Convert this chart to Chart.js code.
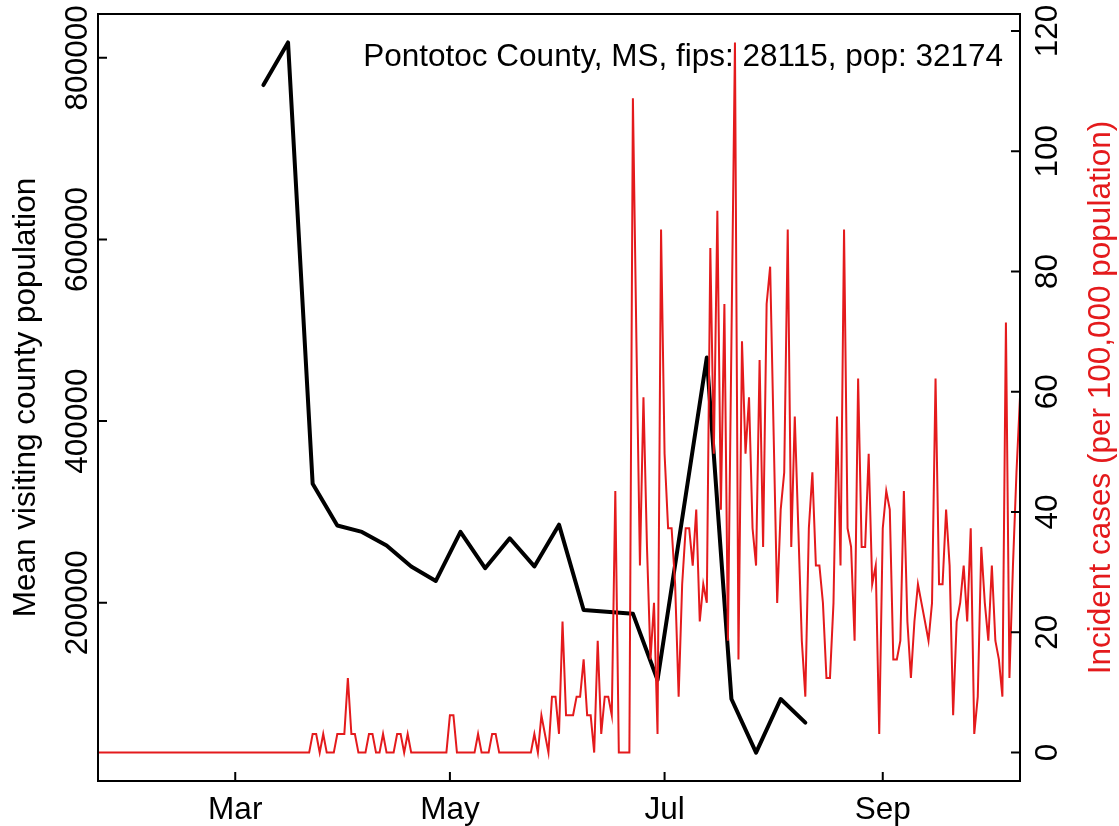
<!DOCTYPE html>
<html>
<head>
<meta charset="utf-8">
<title>Pontotoc County, MS</title>
<script src="https://cdn.jsdelivr.net/npm/chart.js@4.4.1/dist/chart.umd.min.js"></script>
<style>
  html, body { margin: 0; padding: 0; background: #fff; }
  #wrap { width: 1119px; height: 826px; }
</style>
</head>
<body>
<div id="wrap"><canvas id="countyChart" width="1119" height="826"></canvas></div>
<script>
// county shown in the top right corner
const countyTitle = "Pontotoc County, MS, fips: 28115, pop: 32174";

// weekly mean visiting county population (x = day of year 2020, Jan 1 = 0)
const visitDays = [68, 75, 82, 89, 96, 103, 110, 117, 124, 131, 138, 145, 152, 159, 173, 180, 194, 201, 208, 215, 222];
const visitPop = [770000, 817000, 331000, 285000, 278000, 263000, 240000, 224000, 278000, 238000, 271000,
                  240000, 286000, 192000, 188000, 115000, 470000, 94000, 35000, 94000, 68000];

// daily incident cases per 100,000, first value is Jan 22 (day 21)
const caseStartDay = 21;
const incidentCases = [
  0, 0, 0, 0, 0, 0, 0, 0, 0, 0,              // 21-30
  0, 0, 0, 0, 0, 0, 0, 0, 0, 0,              // 31-40
  0, 0, 0, 0, 0, 0, 0, 0, 0, 0,              // 41-50
  0, 0, 0, 0, 0, 0, 0, 0, 0, 0,              // 51-60
  0, 0, 0, 0, 0, 0, 0, 0, 0, 0,              // 61-70
  0, 0, 0, 0, 0, 0, 0, 0, 0, 0,              // 71-80
  0, 3.1, 3.1, 0, 3.1, 0, 0, 0, 3.1, 3.1,    // 81-90
  3.1, 12.4, 3.1, 3.1, 0, 0, 0, 3.1, 3.1, 0, // 91-100
  0, 3.1, 0, 0, 0, 3.1, 3.1, 0, 3.1, 0,      // 101-110
  0, 0, 0, 0, 0, 0, 0, 0, 0, 0,              // 111-120
  6.2, 6.2, 0, 0, 0, 0, 0, 0, 3.1, 0,        // 121-130
  0, 0, 3.1, 3.1, 0, 0, 0, 0, 0, 0,          // 131-140
  0, 0, 0, 0, 3.1, 0, 6.2, 3.1, 0, 9.3,      // 141-150
  9.3, 3.1, 21.8, 6.2, 6.2, 6.2, 9.3, 9.3, 15.5, 6.2,
  6.2, 0, 18.6, 3.1, 9.3, 9.3, 6.2, 43.5, 0, 0,
  0, 0, 108.8, 68.4, 31.1, 59.1, 34.2, 15.5, 24.9, 3.1,
  87.0, 49.7, 37.3, 37.3, 28.0, 9.3, 28.0, 37.3, 37.3, 31.1,
  40.4, 21.8, 28.0, 24.9, 83.9, 49.7, 90.1, 40.4, 74.6, 18.6,
  68.4, 118.1, 15.5, 68.4, 49.7, 59.1, 37.3, 31.1, 65.3, 34.2,
  74.6, 80.8, 52.8, 24.9, 40.4, 46.6, 87.0, 34.2, 55.9, 37.3,
  18.6, 9.3, 37.3, 46.6, 31.1, 31.1, 24.9, 12.4, 12.4, 24.9,
  55.9, 31.1, 87.0, 37.3, 34.2, 18.6, 62.2, 34.2, 34.2, 49.7,
  28.0, 31.1, 3.1, 37.3, 43.5, 40.4, 15.5, 15.5, 18.6, 43.5,
  21.8, 12.4, 21.8, 28.0, 24.9, 21.8, 18.6, 24.9, 62.2, 28.0,
  28.0, 40.4, 31.1, 6.2, 21.8, 24.9, 31.1, 21.8, 37.3, 3.1,
  9.3, 34.2, 24.9, 18.6, 31.1, 18.6, 15.5, 9.3, 71.5, 12.4,
  31.1, 46.6, 59.1                           // 281-283
];

// axis ticks
const monthTickDays = [60, 121, 182, 244];
const monthLabels = ["Mar", "May", "Jul", "Sep"];
const popTicks = [200000, 400000, 600000, 800000];
const caseTicks = [0, 20, 40, 60, 80, 100, 120];

const caseColor = "#e41a1c";
const baseFont = '31.5px "Liberation Sans", Arial, sans-serif';

// same 4% padding R uses around the data range
function paddedRange(values) {
    const lo = Math.min(...values);
    const hi = Math.max(...values);
    const pad = (hi - lo) * 0.04;
    return [lo - pad, hi + pad];
}

const popRange = paddedRange(visitPop);
const caseRange = paddedRange(incidentCases);

// box, inward ticks and upright/rotated labels, base-graphics style
const baseAxes = {
    id: "baseAxes",
    afterDraw(chart) {
        const ctx = chart.ctx;
        const area = chart.chartArea;
        const xs = chart.scales.x;
        const yl = chart.scales.y;
        const yr = chart.scales.y1;
        const tick = 9;

        ctx.save();
        ctx.strokeStyle = "#000";
        ctx.lineWidth = 2;
        ctx.strokeRect(area.left, area.top, area.right - area.left, area.bottom - area.top);

        ctx.beginPath();
        monthTickDays.forEach(d => {
            const px = xs.getPixelForValue(d);
            ctx.moveTo(px, area.bottom);
            ctx.lineTo(px, area.bottom - tick);
        });
        popTicks.forEach(v => {
            const py = yl.getPixelForValue(v);
            ctx.moveTo(area.left, py);
            ctx.lineTo(area.left + tick, py);
        });
        caseTicks.forEach(v => {
            const py = yr.getPixelForValue(v);
            ctx.moveTo(area.right, py);
            ctx.lineTo(area.right - tick, py);
        });
        ctx.stroke();

        ctx.font = baseFont;
        ctx.fillStyle = "#000";
        ctx.textAlign = "center";
        ctx.textBaseline = "alphabetic";
        monthTickDays.forEach((d, i) => {
            ctx.fillText(monthLabels[i], xs.getPixelForValue(d), 819);
        });

        function upText(text, x, y, color) {
            ctx.save();
            ctx.translate(x, y);
            ctx.rotate(-Math.PI / 2);
            ctx.fillStyle = color;
            ctx.fillText(text, 0, 0);
            ctx.restore();
        }

        popTicks.forEach(v => upText(String(v), 87, yl.getPixelForValue(v), "#000"));
        caseTicks.forEach(v => upText(String(v), 1057, yr.getPixelForValue(v), "#000"));

        const midY = (area.top + area.bottom) / 2;
        upText("Mean visiting county population", 35, midY, "#000");
        upText("Incident cases (per 100,000 population)", 1110, midY, caseColor);

        ctx.textAlign = "right";
        ctx.fillText(countyTitle, 1003, 66);
        ctx.restore();
    }
};

const ctx = document.getElementById("countyChart").getContext("2d");

new Chart(ctx, {
    type: "line",
    data: {
        datasets: [
            {
                label: "Incident cases",
                data: incidentCases.map((v, i) => ({ x: caseStartDay + i, y: v })),
                yAxisID: "y1",
                borderColor: caseColor,
                borderWidth: 2,
                pointRadius: 0,
                tension: 0,
                fill: false,
                order: 0
            },
            {
                label: "Mean visiting county population",
                data: visitDays.map((d, i) => ({ x: d, y: visitPop[i] })),
                yAxisID: "y",
                borderColor: "#000",
                borderWidth: 4,
                borderJoinStyle: "round",
                borderCapStyle: "round",
                pointRadius: 0,
                tension: 0,
                fill: false,
                order: 1
            }
        ]
    },
    options: {
        responsive: false,
        animation: false,
        devicePixelRatio: 1,
        layout: { padding: { top: 14, left: 0, right: 0, bottom: 0 } },
        plugins: {
            legend: { display: false },
            tooltip: { enabled: false }
        },
        scales: {
            x: {
                type: "linear",
                min: caseStartDay,
                max: caseStartDay + incidentCases.length - 1,
                ticks: { display: false },
                grid: { display: false },
                border: { display: false },
                afterFit: s => { s.height = 45; }
            },
            y: {
                position: "left",
                min: popRange[0],
                max: popRange[1],
                ticks: { display: false },
                grid: { display: false },
                border: { display: false },
                afterFit: s => { s.width = 98; }
            },
            y1: {
                position: "right",
                min: caseRange[0],
                max: caseRange[1],
                ticks: { display: false },
                grid: { display: false },
                border: { display: false },
                afterFit: s => { s.width = 99; }
            }
        }
    },
    plugins: [baseAxes]
});
</script>
</body>
</html>
